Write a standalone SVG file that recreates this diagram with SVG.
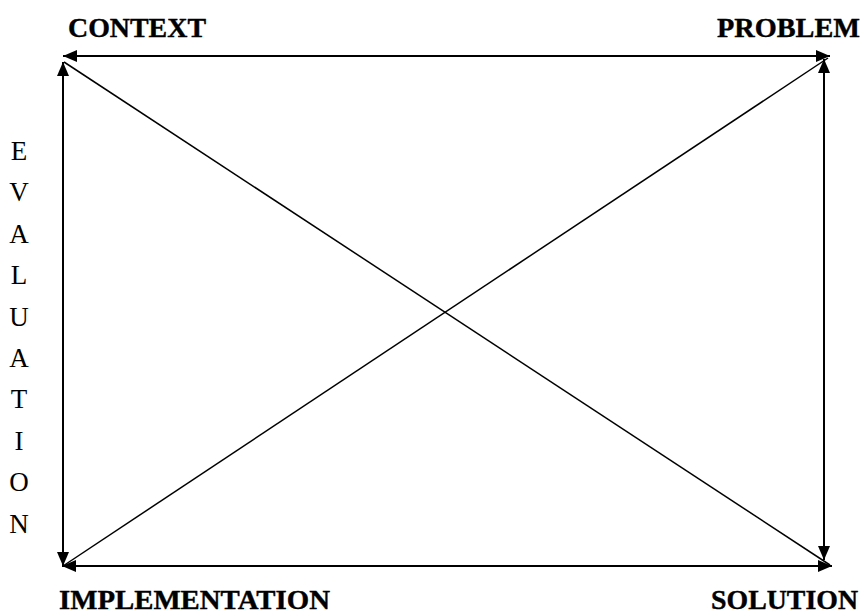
<svg xmlns="http://www.w3.org/2000/svg" width="865" height="616" viewBox="0 0 865 616">
<style>
.lbl{font-family:"Liberation Serif","DejaVu Serif",serif;font-weight:bold;font-size:28px;fill:#000;stroke:#000;stroke-width:0.4}
.ev{font-family:"Liberation Serif","DejaVu Serif",serif;font-size:27px;fill:#000;text-anchor:middle}
.edge{stroke:#000;stroke-width:2;fill:none}
.diag{stroke:#000;stroke-width:1.5;fill:none}
</style>
<defs>
<marker id="ah" viewBox="0 0 14 12" refX="14" refY="6" markerWidth="14" markerHeight="12" markerUnits="userSpaceOnUse" orient="auto-start-reverse">
<path d="M0,0 L14,6 L0,12 z" fill="#000"/>
</marker>
</defs>
<rect width="865" height="616" fill="#fff"/>
<g id="connectors">
<line class="edge" x1="63" y1="56" x2="830" y2="56" marker-start="url(#ah)" marker-end="url(#ah)"/>
<line class="edge" x1="62" y1="566" x2="832" y2="566" marker-start="url(#ah)" marker-end="url(#ah)"/>
<line class="edge" x1="63" y1="62" x2="63" y2="566" marker-start="url(#ah)" marker-end="url(#ah)"/>
<line class="edge" x1="824" y1="59" x2="824" y2="560" marker-start="url(#ah)" marker-end="url(#ah)"/>
<line class="diag" x1="64" y1="62" x2="830" y2="565"/>
<line class="diag" x1="63" y1="566" x2="828" y2="58"/>
</g>
<g id="context"><text class="lbl" x="68" y="37" textLength="138" lengthAdjust="spacingAndGlyphs">CONTEXT</text></g>
<g id="problem"><text class="lbl" x="717" y="37" textLength="143" lengthAdjust="spacingAndGlyphs">PROBLEM</text></g>
<g id="implementation"><text class="lbl" x="59" y="609" textLength="271" lengthAdjust="spacingAndGlyphs">IMPLEMENTATION</text></g>
<g id="solution"><text class="lbl" x="711" y="609" textLength="147" lengthAdjust="spacingAndGlyphs">SOLUTION</text></g>
<g id="evaluation">
<text class="ev" x="19" y="160">E</text>
<text class="ev" x="19" y="201.4">V</text>
<text class="ev" x="19" y="242.8">A</text>
<text class="ev" x="19" y="284.2">L</text>
<text class="ev" x="19" y="325.6">U</text>
<text class="ev" x="19" y="367">A</text>
<text class="ev" x="19" y="408.4">T</text>
<text class="ev" x="19" y="449.8">I</text>
<text class="ev" x="19" y="491.2">O</text>
<text class="ev" x="19" y="532.6">N</text>
</g>
</svg>
